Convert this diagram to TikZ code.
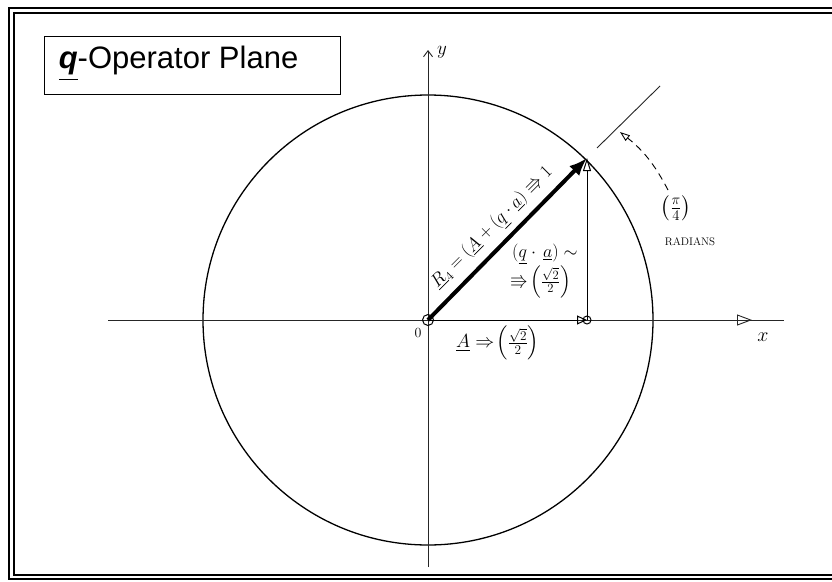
\documentclass[tikz,border=0pt]{standalone}
\usepackage{fix-cm}
\usepackage{amsmath,amssymb}
\usepackage{fontspec}
\newfontfamily\titlefont{Liberation Sans}
\usetikzlibrary{arrows.meta}
\begin{document}
\begin{tikzpicture}[x=1pt,y=-1pt,
  axis/.style={line width=0.9pt, black!85},
  rim/.style={line width=1.3pt},
  frameline/.style={line width=1.8pt},
  vec/.style={line width=4pt, -{Latex[length=18pt,width=14pt]}},
  proj/.style={line width=1pt},
  hand/.style={font=\fontsize{18}{20}\selectfont, inner sep=1pt},
  small/.style={font=\fontsize{11}{13}\selectfont, inner sep=1pt},
 ]
\useasboundingbox (0,0) rectangle (832,581);
\clip (0,0) rectangle (832,581);
\fill[white] (0,0) rectangle (832,581);
% frame
\draw[frameline] (9,8) rectangle (860,579);
\draw[line width=1.2pt] (14,13) rectangle (855,575);
% title
\node[draw, line width=0.8pt, minimum width=296pt, minimum height=58pt, inner sep=0pt] (title) at (192,65) {};
\node[anchor=west, inner sep=0pt, font=\titlefont\fontsize{31}{34}\selectfont] (tt) at ([xshift=15pt,yshift=1pt]title.west)
  {\textbf{\textit{\underline{q}}}-Operator Plane};
% key points
\coordinate (O) at (428,320);
\coordinate (T) at (587,158);
\coordinate (P) at (587,320);
\coordinate (xL) at (108,320);
\coordinate (xA) at (752,320);
\coordinate (xR) at (784,320);
\coordinate (yB) at (428,567);
\coordinate (yT) at (428,50);
\coordinate (E1) at (597,148);
\coordinate (E2) at (660,86);
\coordinate (D1) at (668,190);
\coordinate (D2) at (620,132);
% circle
\draw[rim] (O) circle[radius=225pt];
% axes
\draw[axis] (xL) -- (xR);
\draw[axis, -{Triangle[open,length=15pt,width=11pt]}] (700,320) -- (xA);
\draw[axis, -{Straight Barb[length=6pt,width=9pt]}] (yB) -- (yT);
\node[font=\fontsize{20}{22}\selectfont] (xlab) at (763,337) {$x$};
\node[font=\fontsize{19}{21}\selectfont] (ylab) at (442,52) {$y$};
% projections
\draw[proj, -{Triangle[open,length=10pt,width=9pt]}] (O) -- (P);
\draw[proj] (P) circle[radius=4pt];
\draw[proj, -{Triangle[open,length=13pt,width=8pt]}] (P) -- (T);
% vector
\draw[vec] (O) -- (T);
\draw[line width=1pt] (O) circle[radius=5.5pt];
% angle marker
\draw[axis] (E1) -- (E2);
\draw[line width=0.9pt, dash pattern=on 7pt off 5pt, -{Triangle[open,length=10pt,width=7pt]}] (D1) to[bend right=12] (D2);
% labels
\node[hand, rotate=45] (rlab) at (493,228)
  {$\underline{R}_4 = (\underline{A} + (\underline{q}\cdot\underline{a}) \Rrightarrow 1$};
\node[hand, anchor=west] (qa) at (511,254) {$(\underline{q}\cdot\,\underline{a})\sim$};
\node[hand, anchor=west] (qv) at (509,282) {$\Rrightarrow\!\left(\frac{\sqrt{2}}{2}\right)$};
\node[hand, anchor=west, font=\fontsize{19}{21}\selectfont] (alab) at (455,343) {$\underline{A}\Rightarrow\!\left(\frac{\sqrt{2}}{2}\right)$};
\node[font=\fontsize{14}{16}\selectfont] (olab) at (418,333) {$0$};
\node[hand, font=\fontsize{21}{23}\selectfont] (pil) at (676,208) {$\left(\frac{\pi}{4}\right)$};
\node[small] (rad) at (690,242) {\addfontfeatures{LetterSpace=12}RADIANS};
\end{tikzpicture}
\end{document}
